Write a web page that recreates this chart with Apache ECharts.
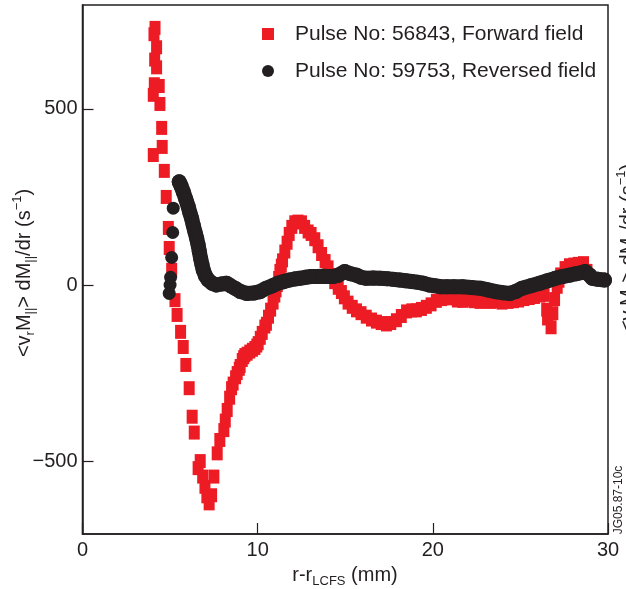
<!DOCTYPE html>
<html>
<head>
<meta charset="utf-8">
<script src="https://cdn.jsdelivr.net/npm/echarts@6/dist/echarts.min.js"></script>
<style>
    html, body { margin: 0; padding: 0; background: #fff; }
    #chart { width: 626px; height: 589px; }
</style>
</head>
<body>
<div id="chart"></div>
<script>
// tick values
const xTicks = [0, 10, 20, 30];
const yTicks = [-500, 0, 500];

// series names
const seriesNames = ['Pulse No: 56843, Forward field', 'Pulse No: 59753, Reversed field'];

// Pulse 56843, forward field: [r - r_LCFS (mm), value (s^-1)]
const forwardField = [
    [4.14, 730], [4.08, 712], [4.23, 675], [4.12, 640], [4.23, 618], [4.10, 570],
    [4.38, 565], [4.04, 540], [4.42, 514], [4.52, 446], [4.55, 392], [4.04, 369],
    [4.67, 324], [4.78, 250], [4.90, 162], [4.95, 105], [5.09, 43], [5.28, -43],
    [5.40, -85], [5.60, -133], [5.75, -176], [5.90, -227], [6.09, -293], [6.26, -374],
    [6.38, -419], [6.60, -520], [6.72, -500], [6.86, -544], [6.99, -573], [7.10, -600],
    [7.23, -620], [7.37, -597], [7.50, -544], [7.69, -478], [7.84, -440], [8.07, -412],
    [8.15, -385], [8.26, -355], [8.40, -320], [8.51, -293], [8.60, -280], [8.74, -262],
    [8.83, -250], [8.95, -238], [9.00, -230], [9.12, -213], [9.20, -205], [9.27, -199],
    [9.40, -195], [9.55, -189], [9.70, -184], [9.84, -179], [9.95, -172], [10.03, -165],
    [10.15, -150], [10.26, -136], [10.41, -118], [10.50, -110], [10.62, -90],
    [10.74, -70], [10.88, -50], [10.98, -30], [11.05, -15], [11.12, 0], [11.20, 20],
    [11.27, 40], [11.35, 55], [11.42, 70], [11.55, 95], [11.68, 120], [11.80, 145],
    [11.95, 165], [12.12, 178], [12.30, 180], [12.50, 178], [12.68, 165], [12.88, 152],
    [13.05, 145], [13.26, 130], [13.45, 110], [13.65, 88], [13.85, 68], [14.02, 50],
    [14.20, 28], [14.40, 8], [14.60, -8], [14.78, -20], [14.95, -35], [15.16, -50],
    [15.40, -62], [15.64, -72], [15.90, -80], [16.20, -90], [16.50, -98], [16.78, -104],
    [17.05, -108], [17.35, -112], [17.60, -108], [17.92, -100], [18.20, -88], [18.50, -75],
    [18.80, -72], [19.06, -72], [19.35, -68], [19.63, -62], [19.90, -55], [20.20, -45],
    [20.50, -40], [20.77, -36], [21.10, -38], [21.40, -44], [21.70, -45], [22.00, -42],
    [22.35, -46], [22.70, -48], [23.00, -44], [23.30, -48], [23.60, -46], [23.95, -50],
    [24.30, -48], [24.60, -46], [24.90, -44], [25.20, -40], [25.50, -37], [25.80, -34],
    [26.10, -30], [26.35, -28], [26.50, -70], [26.55, -95], [26.75, -120], [26.85, -80],
    [26.95, -40], [27.10, -5], [27.20, 12], [27.30, 30], [27.55, 48], [27.80, 56],
    [28.05, 58], [28.30, 60], [28.60, 62], [28.80, 40]
];

// Pulse 59753, reversed field: the separate points near 5 mm
const reversedInner = [
    [4.95, -24], [5.00, 0], [5.03, 22], [5.09, 78], [5.15, 149], [5.18, 218]
];

// Pulse 59753, reversed field: the dense band from 5.5 mm outwards
const reversedBand = [
    [5.52, 293], [5.62, 282], [5.75, 265], [5.90, 243], [6.04, 222], [6.13, 205],
    [6.23, 189], [6.32, 170], [6.42, 151], [6.52, 132], [6.60, 114], [6.67, 95],
    [6.74, 76], [6.82, 58], [6.89, 43], [7.02, 26], [7.18, 14], [7.40, 5],
    [7.65, 0], [7.95, 3], [8.22, 5], [8.45, -2], [8.70, -9], [9.00, -18],
    [9.37, -24], [9.75, -23], [10.13, -19], [10.50, -9], [10.85, -2], [11.15, 5],
    [11.45, 9], [11.80, 14], [12.10, 17], [12.40, 19], [12.75, 22], [13.05, 24],
    [13.36, 24], [13.70, 25], [14.00, 24], [14.30, 24], [14.60, 28], [14.97, 38],
    [15.30, 32], [15.64, 28], [15.90, 22], [16.20, 19], [16.60, 20], [17.00, 19],
    [17.40, 18], [17.75, 16], [18.10, 14], [18.45, 12], [18.80, 10], [19.10, 8],
    [19.45, 5], [19.80, 0], [20.10, -2], [20.45, -5], [20.80, -5], [21.20, -5],
    [21.70, -5], [22.20, -7], [22.70, -9], [23.15, -14], [23.60, -19], [24.00, -22],
    [24.40, -24], [24.75, -18], [25.10, -9], [25.60, -2], [26.10, 5], [26.55, 12],
    [27.00, 19], [27.40, 24], [27.80, 28], [28.20, 32], [28.70, 38], [28.95, 28],
    [29.10, 19], [29.45, 16], [29.80, 14]
];

const ink = '#231f20';
const red = '#ed1c24';
const font = '"Liberation Sans", Arial, sans-serif';

// 坐标轴标题用到的上下标
const richSub = {
    sub: { fontSize: 13, lineHeight: 12, verticalAlign: 'bottom', fontFamily: font, fill: ink, color: ink },
    sup: { fontSize: 13, lineHeight: 12, verticalAlign: 'top', fontFamily: font, fill: ink, color: ink }
};
const yTitle = '<v{sub|r}M{sub|||}> dM{sub|||}/dr (s{sup|−1})';

function rotatedText(x, y, text, size) {
    return {
        type: 'text',
        x: x,
        y: y,
        rotation: Math.PI / 2,
        silent: true,
        style: {
            text: text,
            rich: richSub,
            fontSize: size,
            fontFamily: font,
            lineHeight: 26,
            fill: ink,
            align: 'center',
            verticalAlign: 'middle'
        }
    };
}

const myChart = echarts.init(document.getElementById('chart'));

const option = {
    animation: false,
    backgroundColor: '#fff',
    grid: {
        left: 82.5, right: 18, top: 5, bottom: 55,
        show: true, borderColor: ink, borderWidth: 1.5
    },
    legend: {
        orient: 'vertical',
        left: 257,
        top: 18,
        itemWidth: 12,
        itemHeight: 12,
        itemGap: 15,
        textStyle: { fontSize: 21, fontFamily: font, color: ink, lineHeight: 22, padding: [0, 0, 0, 16] },
        data: [
            { name: seriesNames[0], icon: 'rect' },
            { name: seriesNames[1], icon: 'circle' }
        ]
    },
    xAxis: {
        type: 'value',
        min: xTicks[0],
        max: xTicks[xTicks.length - 1],
        interval: 10,
        splitLine: { show: false },
        axisLine: { onZero: false, lineStyle: { color: ink, width: 1.5 } },
        axisTick: { inside: true, length: 11, lineStyle: { color: ink, width: 1.2 } },
        axisLabel: { margin: 6, fontSize: 20, fontFamily: font, color: ink }
    },
    yAxis: {
        type: 'value',
        min: -707,
        max: 795,
        splitLine: { show: false },
        axisLine: { show: true, onZero: false, lineStyle: { color: ink, width: 1.5 } },
        axisTick: { show: true, inside: true, length: 11, customValues: yTicks, lineStyle: { color: ink, width: 1.2 } },
        axisLabel: {
            margin: 5, fontSize: 20, fontFamily: font, color: ink, customValues: yTicks,
            formatter: v => (v < 0 ? '\u2212' + Math.abs(v) : String(v))
        }
    },
    graphic: [
        rotatedText(24, 273, yTitle, 20),
        rotatedText(628, 248, yTitle, 20),
        {
            type: 'text',
            x: 619,
            y: 500,
            rotation: Math.PI / 2,
            silent: true,
            style: {
                text: 'JG05.87-10c', fontSize: 12, fontFamily: font, fill: ink,
                align: 'center', verticalAlign: 'middle'
            }
        },
        {
            type: 'text',
            x: 345,
            y: 575,
            silent: true,
            style: {
                text: 'r-r{sub|LCFS} (mm)',
                rich: richSub,
                fontSize: 20,
                fontFamily: font,
                lineHeight: 26,
                fill: ink,
                align: 'center',
                verticalAlign: 'middle'
            }
        }
    ],
    series: [
        {
            name: seriesNames[0],
            type: 'scatter',
            symbol: 'rect',
            symbolSize: [11, 14],
            itemStyle: { color: red, opacity: 1 },
            data: forwardField,
            z: 2
        },
        {
            name: seriesNames[1],
            type: 'scatter',
            symbol: 'circle',
            symbolSize: 13,
            itemStyle: { color: ink, opacity: 1 },
            data: reversedInner,
            z: 3
        },
        {
            // 点很密，画成粗线+圆点，看起来是一条连续的黑带
            name: seriesNames[1],
            type: 'line',
            symbol: 'circle',
            symbolSize: 15,
            showSymbol: true,
            itemStyle: { color: ink, opacity: 1 },
            lineStyle: { color: ink, width: 15, cap: 'round', join: 'round' },
            data: reversedBand,
            z: 3
        }
    ]
};

myChart.setOption(option);
</script>
</body>
</html>
